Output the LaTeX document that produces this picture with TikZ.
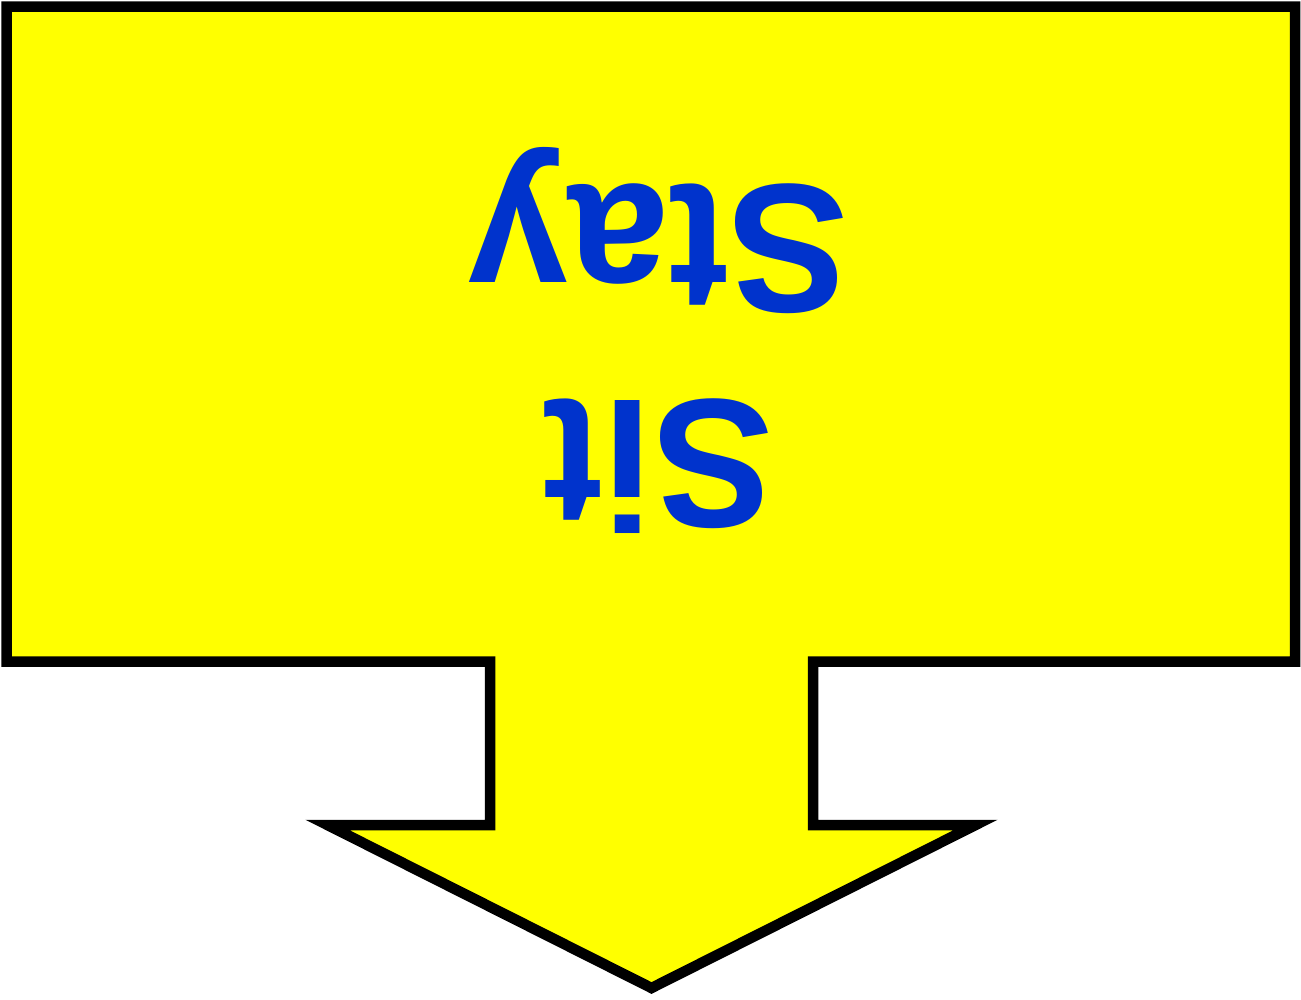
\documentclass[tikz,border=0pt]{standalone}
\usepackage{fontspec}
\newfontfamily\signfont{Liberation Sans}
\definecolor{signyellow}{RGB}{255,255,0}
\definecolor{signblue}{RGB}{0,51,204}
\tikzset{
  callout/.style={draw=black, fill=signyellow, line width=10.5pt, miter limit=10},
  signtext/.style={rotate=180, yscale=1.02, anchor=base, inner sep=0pt, text=signblue,
    font=\signfont\bfseries\fontsize{180}{216}\selectfont}
}
\begin{document}
\begin{tikzpicture}[x=1pt,y=-1pt]
\useasboundingbox (0,0) rectangle (1301,999);
\path[callout] (6.5,6.5) -- (1295,6.5) -- (1295,661.5) -- (813,661.5) -- (813,825)
  -- (975.5,825) -- (651.5,988) -- (327.5,825) -- (490,825) -- (490,661.5)
  -- (6.5,661.5) -- cycle;
\node[signtext] (stay) at (658,185) {Stay};
\node[signtext] (sit) at (658,400) {Sit};
\end{tikzpicture}
\end{document}
